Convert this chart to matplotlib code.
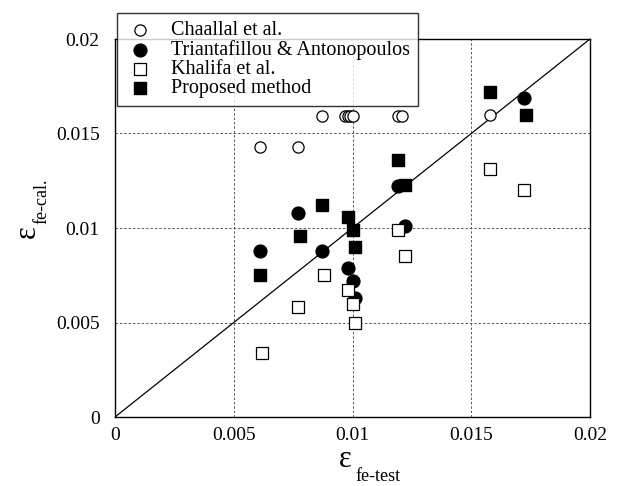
import matplotlib
matplotlib.use("Agg")
import matplotlib.pyplot as plt

plt.rcParams['font.family'] = ['Liberation Serif', 'DejaVu Serif']

# data
chaallal_x = [0.0061, 0.0077, 0.0087, 0.0097, 0.0098, 0.0099, 0.0100, 0.0119, 0.0121, 0.0158]
chaallal_y = [0.0143, 0.0143, 0.0159, 0.0159, 0.0159, 0.0159, 0.0159, 0.0159, 0.0159, 0.0160]

trianta_x = [0.0061, 0.0077, 0.0087, 0.0098, 0.0100, 0.0101, 0.0119, 0.0122, 0.0172]
trianta_y = [0.0088, 0.0108, 0.0088, 0.0079, 0.0072, 0.0063, 0.0122, 0.0101, 0.0169]

khalifa_x = [0.0062, 0.0077, 0.0088, 0.0098, 0.0100, 0.0101, 0.0119, 0.0122, 0.0158, 0.0172]
khalifa_y = [0.0034, 0.0058, 0.0075, 0.0067, 0.0060, 0.0050, 0.0099, 0.0085, 0.0131, 0.0120]

proposed_x = [0.0061, 0.0078, 0.0087, 0.0098, 0.0100, 0.0101, 0.0119, 0.0122, 0.0158, 0.0173]
proposed_y = [0.0075, 0.0096, 0.0112, 0.0106, 0.0099, 0.0090, 0.0136, 0.0123, 0.0172, 0.0160]

ticks = [0, 0.005, 0.01, 0.015, 0.02]
tick_labels = ['0', '0.005', '0.01', '0.015', '0.02']

fig = plt.figure(figsize=(6.26, 4.86), dpi=100)
ax = fig.add_axes([115/626, 1 - 417/486, 475/626, 378/486])

ax.plot([0, 0.02], [0, 0.02], color='black', lw=0.9, zorder=2)

ax.scatter(chaallal_x, chaallal_y, s=65, facecolors='white', edgecolors='black',
           linewidths=0.9, marker='o', label='Chaallal et al.', zorder=3)
ax.scatter(trianta_x, trianta_y, s=85, color='black', marker='o',
           label='Triantafillou & Antonopoulos', zorder=3)
ax.scatter(khalifa_x, khalifa_y, s=65, facecolors='white', edgecolors='black',
           linewidths=0.9, marker='s', label='Khalifa et al.', zorder=3)
ax.scatter(proposed_x, proposed_y, s=85, color='black', marker='s',
           label='Proposed method', zorder=4)

ax.set_xlim(0, 0.02)
ax.set_ylim(0, 0.02)
ax.set_xticks(ticks)
ax.set_xticklabels(tick_labels)
ax.set_yticks(ticks)
ax.set_yticklabels(tick_labels)
ax.tick_params(axis='both', length=0, labelsize=14)
ax.tick_params(axis='x', pad=7)
ax.tick_params(axis='y', pad=11)
ax.grid(True, color='0.35', linestyle=(0, (2.5, 2)), lw=0.7)
ax.set_axisbelow(True)
for sp in ax.spines.values():
    sp.set_linewidth(1.0)

leg = fig.legend(loc='upper left', bbox_to_anchor=(117/626, 1 - 13/486),
                 fontsize=14.5, frameon=True, fancybox=False, borderpad=0.4,
                 labelspacing=0.0, handlelength=1.5, handletextpad=0.8,
                 borderaxespad=0, scatterpoints=1)
leg.get_frame().set_edgecolor('black')
leg.get_frame().set_linewidth(1.0)
leg.set_zorder(10)

# axis labels: epsilon with subscript
fig.text(345/626, 1 - 459/486, 'ε', fontsize=22, ha='center', va='center')
fig.text(355/626, 1 - 476/486, 'fe-test', fontsize=13, ha='left', va='center')
fig.text(27/626, 1 - 232/486, 'ε', fontsize=22, ha='center', va='center', rotation=90)
fig.text(42/626, 1 - 224/486, 'fe-cal.', fontsize=13, ha='center', va='bottom', rotation=90)

fig.savefig('out.png', dpi=100)
